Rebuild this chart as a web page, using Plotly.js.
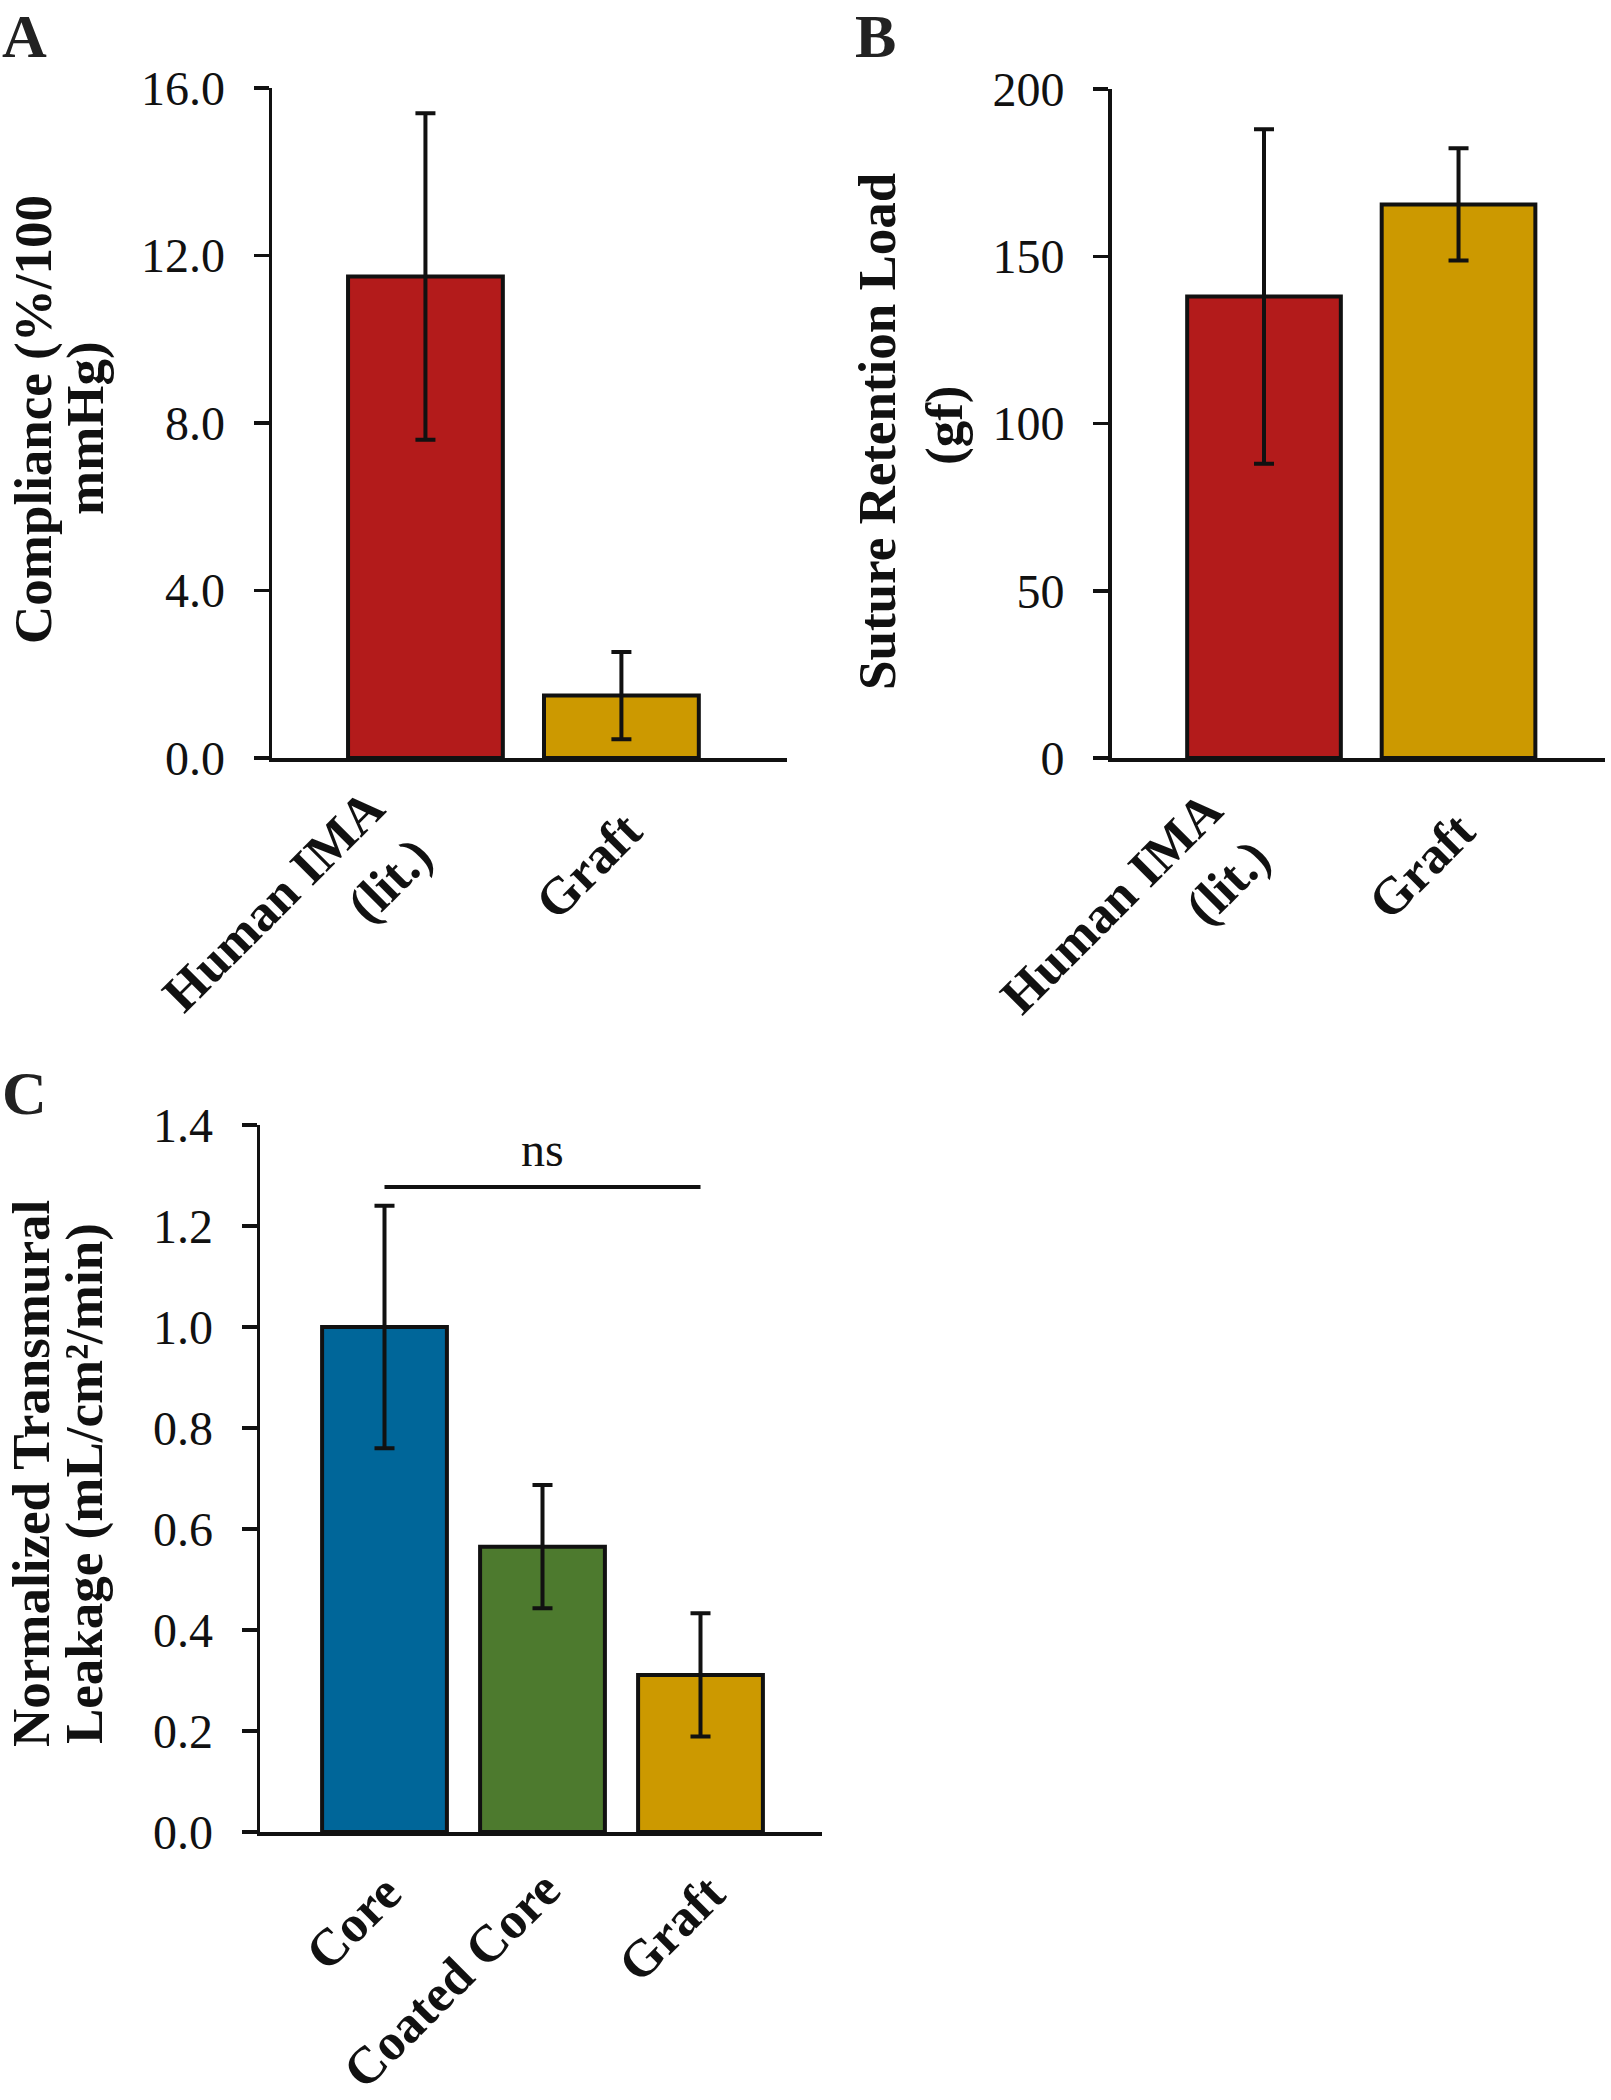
<!DOCTYPE html>
<html><head><meta charset="utf-8">
<script src="https://cdn.plot.ly/plotly-3.0.1.min.js"></script>
<style>body{margin:0;background:#fff}</style>
</head><body><div id="chart" style="width:1611px;height:2100px"></div>
<script>
// Panel A: compliance
const catsA = ['Human IMA<br>(lit.)', 'Graft'];
const complianceVals = [11.5, 1.49];
const complianceErr = [3.9, 1.04];
// Panel B: suture retention load
const catsB = ['Human IMA<br>(lit.)', 'Graft'];
const sutureVals = [138, 165.5];
const sutureErr = [50, 16.8];
// Panel C: transmural leakage
const catsC = ['Core', 'Coated Core', 'Graft'];
const leakVals = [1.0, 0.565, 0.311];
const leakErr = [0.24, 0.122, 0.122];

const colorsAB = ['#B31B1B', '#CC9900'];
const colorsC = ['#006699', '#4D7A2E', '#CC9900'];

const FONT = '"Liberation Serif", "Times New Roman", serif';
const INK = '#111';

function barTrace(x, y, err, colors, xa, ya) {
  return {
    type: 'bar', x: x, y: y, xaxis: xa, yaxis: ya, width: 0.79,
    marker: {color: colors, line: {color: INK, width: 4}},
    error_y: {type: 'data', array: err, visible: true, color: INK, thickness: 4, width: 10},
    hoverinfo: 'skip', showlegend: false
  };
}

const data = [
  barTrace(catsA, complianceVals, complianceErr, colorsAB, 'x', 'y'),
  barTrace(catsB, sutureVals, sutureErr, colorsAB, 'x2', 'y2'),
  barTrace(catsC, leakVals, leakErr, colorsC, 'x3', 'y3')
];

function xAxis(domain, range, anchor) {
  return {domain: domain, range: range, anchor: anchor, type: 'category',
    showline: true, linecolor: INK, linewidth: 3.5, ticks: '', showgrid: false, zeroline: false,
    showticklabels: false, fixedrange: true};
}
function yAxis(domain, range, dtick, fmt, anchor) {
  return {domain: domain, range: range, anchor: anchor, dtick: dtick, tick0: 0, tickformat: fmt,
    showline: true, linecolor: INK, linewidth: 3.5, ticks: 'outside', ticklen: 15, tickwidth: 3.5, tickcolor: INK,
    showgrid: false, zeroline: false, ticklabelstandoff: 19,
    tickfont: {family: FONT, size: 48, color: INK}, fixedrange: true};
}

const W = 1611, H = 2100;
const px = v => v / W, py = v => 1 - v / H;

const titleFont = {family: FONT, size: 53, color: INK, weight: 'bold'};
function vtitle(text, x, y) {
  return {text: text, xref: 'paper', yref: 'paper', x: px(x), y: py(y), textangle: -90,
    showarrow: false, xanchor: 'center', yanchor: 'middle', font: titleFont};
}
function letter(text, x, y) {
  return {text: text, xref: 'paper', yref: 'paper', x: px(x), y: py(y), showarrow: false,
    xanchor: 'left', yanchor: 'top', font: {family: FONT, size: 62, color: '#222', weight: 'bold'}};
}
// rotated category labels placed on each panel's own category axis
const catFont = {family: FONT, size: 52, color: INK, weight: 'bold'};
function catLabels(cats, xref, shifts, tops) {
  return cats.map((c, i) => ({
    text: c, xref: xref, yref: 'paper', x: i + shifts[i], y: py(tops[i]),
    textangle: -45, align: 'right', showarrow: false, xanchor: 'right', yanchor: 'top', font: catFont
  }));
}

const layout = {
  width: W, height: H, margin: {l: 0, r: 0, t: 0, b: 0},
  paper_bgcolor: '#fff', plot_bgcolor: 'rgba(0,0,0,0)',
  xaxis: xAxis([px(272), px(787)], [-0.783, 1.845], 'y'),
  yaxis: yAxis([py(758), py(88)], [0, 16], 4, '.1f', 'x'),
  xaxis2: xAxis([px(1111.7), px(1605)], [-0.783, 1.753], 'y2'),
  yaxis2: yAxis([py(758), py(89)], [0, 200], 50, 'd', 'x2'),
  xaxis3: xAxis([px(260), px(822)], [-0.788, 2.769], 'y3'),
  yaxis3: yAxis([py(1832), py(1125)], [0, 1.4], 0.2, '.1f', 'x3'),
  shapes: [
    {type: 'line', xref: 'x3', yref: 'y3', x0: 0, x1: 2, y0: 1.277, y1: 1.277, line: {color: INK, width: 4}}
  ],
  annotations: [
    letter('A', 0, 0), letter('B', 853, 0), letter('C', 0, 1057),
    vtitle('Compliance (%/100', 34, 420), vtitle('mmHg)', 86, 428),
    vtitle('Suture Retention Load', 877, 432), vtitle('(gf)', 944, 426),
    vtitle('Normalized Transmural', 31, 1474), vtitle('Leakage (mL/cm²/min)', 84, 1484),
    {text: 'ns', xref: 'x3', yref: 'y3', x: 1, y: 1.295, showarrow: false, xanchor: 'center', yanchor: 'bottom',
      font: {family: FONT, size: 48, color: INK}}
  ].concat(
    catLabels(catsA, 'x', [0.110, 0.176], [776, 798]),
    catLabels(catsB, 'x2', [0.108, 0.157], [778, 798]),
    catLabels(catsC, 'x3', [0.192, 0.20, 0.24], [1861, 1857, 1861])
  )
};

Plotly.newPlot('chart', data, layout, {staticPlot: true, displayModeBar: false});
</script></body></html>
